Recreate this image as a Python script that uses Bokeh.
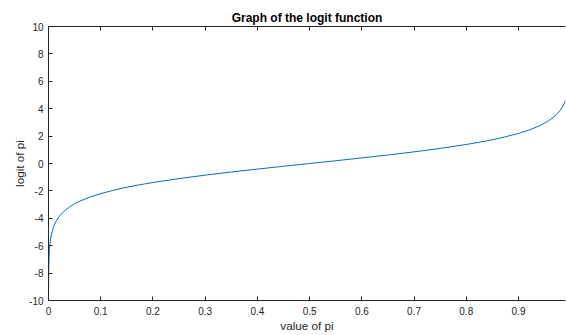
from bokeh.plotting import figure
from bokeh.models import LinearAxis, FixedTicker, Range1d
from bokeh.embed import file_html
from bokeh.resources import INLINE

# values of pi and the logit
pi_vals = [0.00001, 0.0001, 0.0005, 0.001, 0.002, 0.003, 0.005, 0.0075, 0.01,
           0.015, 0.02, 0.03, 0.04, 0.05, 0.06, 0.08, 0.10, 0.125, 0.15, 0.175,
           0.20, 0.25, 0.30, 0.35, 0.40, 0.45, 0.50, 0.55, 0.60, 0.65, 0.70,
           0.75, 0.80, 0.825, 0.85, 0.875, 0.90, 0.92, 0.94, 0.95, 0.96, 0.97,
           0.975, 0.98, 0.985, 0.99]
logit_vals = [-11.51, -9.21, -7.60, -6.91, -6.21, -5.81, -5.29, -4.89, -4.60,
              -4.19, -3.89, -3.48, -3.18, -2.94, -2.75, -2.44, -2.20, -1.95,
              -1.73, -1.55, -1.39, -1.10, -0.85, -0.62, -0.41, -0.20, 0.00,
              0.20, 0.41, 0.62, 0.85, 1.10, 1.39, 1.55, 1.73, 1.95, 2.20, 2.44,
              2.75, 2.94, 3.18, 3.48, 3.66, 3.89, 4.19, 4.60]

x_ticks = [0, 0.1, 0.2, 0.3, 0.4, 0.5, 0.6, 0.7, 0.8, 0.9]
x_tick_labels = ["0", "0.1", "0.2", "0.3", "0.4", "0.5", "0.6", "0.7", "0.8", "0.9"]
y_ticks = [-10, -8, -6, -4, -2, 0, 2, 4, 6, 8, 10]
y_tick_labels = ["-10", "-8", "-6", "-4", "-2", "0", "2", "4", "6", "8", "10"]

FONT = "Liberation Sans"
AX = "#262626"

p = figure(width=566, height=335, output_backend="svg", toolbar_location=None,
           x_range=Range1d(0, 0.99), y_range=Range1d(-10, 10),
           min_border_left=48, min_border_right=1, min_border_top=26,
           min_border_bottom=35, title="Graph of the logit function")
p.title.text_font = FONT
p.title.text_font_size = "12px"
p.title.text_font_style = "bold"
p.title.text_color = "#000000"
p.title.align = "center"
p.title.standoff = 4
p.title.offset = 0
p.outline_line_color = None
p.background_fill_color = "white"
p.border_fill_color = "white"
p.grid.visible = False

p.line(pi_vals, logit_vals, line_color="#0072BD", line_width=1)

for ax, ticks, labels in ((p.xaxis[0], x_ticks, x_tick_labels),
                          (p.yaxis[0], y_ticks, y_tick_labels)):
    ax.ticker = FixedTicker(ticks=ticks)
    ax.major_label_overrides = {t: l for t, l in zip(ticks, labels)}
    ax.minor_tick_line_color = None
    ax.major_tick_in = 4
    ax.major_tick_out = 0
    ax.axis_line_color = AX
    ax.major_tick_line_color = AX
    ax.major_label_text_color = AX
    ax.major_label_text_font = FONT
    ax.major_label_text_font_size = "10px"
    ax.axis_label_text_font = FONT
    ax.axis_label_text_font_size = "11.7px"
    ax.axis_label_text_font_style = "normal"
    ax.axis_label_text_color = AX

p.xaxis[0].axis_label = "value of pi"
p.xaxis[0].major_label_standoff = 6
p.xaxis[0].axis_label_standoff = 1
p.yaxis[0].axis_label = "logit of pi"
p.yaxis[0].major_label_standoff = 5
p.yaxis[0].axis_label_standoff = 0

top = LinearAxis(ticker=FixedTicker(ticks=x_ticks),
                 major_label_overrides={t: "" for t in x_ticks},
                 major_label_standoff=0, major_tick_in=4, major_tick_out=0,
                 minor_tick_line_color=None, axis_line_color=AX,
                 major_tick_line_color=AX)
p.add_layout(top, "above")

open("out.html", "w").write(file_html(p, INLINE))
